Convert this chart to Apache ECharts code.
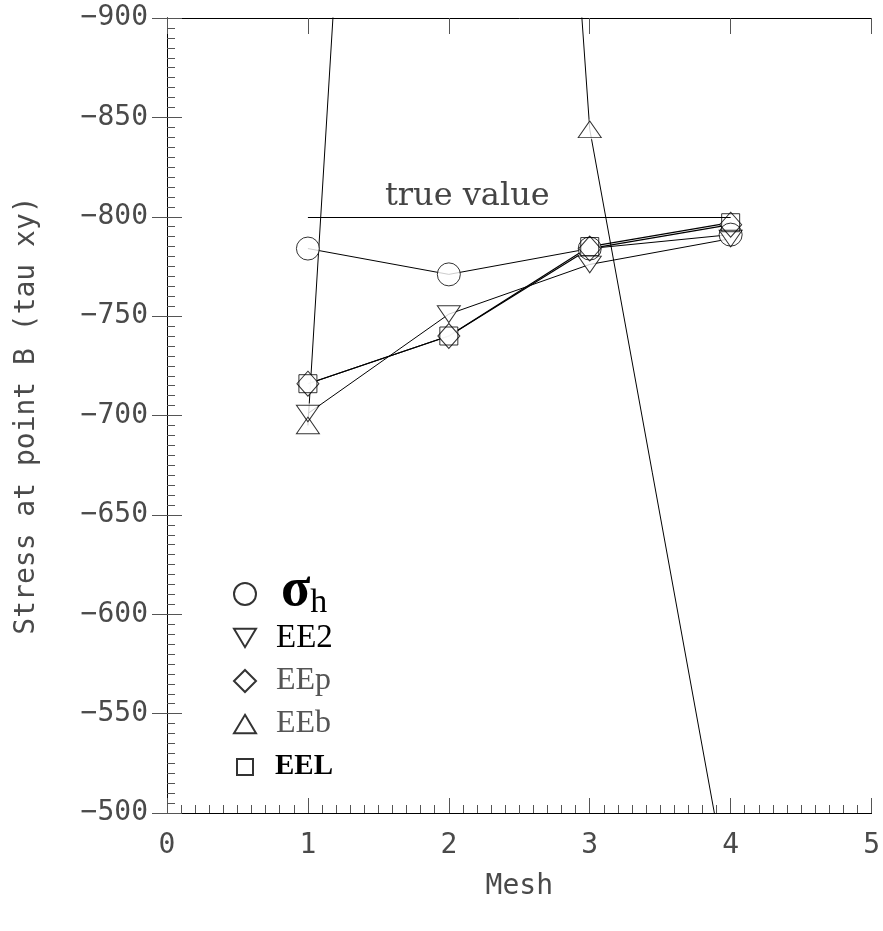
<!DOCTYPE html>
<html style="height: 100%">
<head>
    <meta charset="utf-8">
    <script src="https://cdn.jsdelivr.net/npm/echarts@6/dist/echarts.min.js"></script>
</head>
<body style="height: 100%; margin: 0; background: #fff">
    <div id="container" style="width: 883px; height: 931px"></div>
    <script type="text/javascript">
        // values
        var meshX = [1, 2, 3, 4];
        var sigmaH = [-784, -771, -784, -791];
        var ee2 = [-701, -751, -776, -789];
        var eep = [-716, -740, -784, -796];
        var eeb = [-695, -1850, -844, -455];
        var eel = [-716, -740, -785, -797];
        var trueValue = -800;
        var trueFrom = 1, trueTo = 4;

        var triDown = 'path://M0,0L24,0L12,20Z';
        var triUp = 'path://M12,0L24,20L0,20Z';
        var squareIcon = 'path://M0,0M22,22M3,3H19V19H3Z';

        var sets = [
            { name: 'σh', values: sigmaH, symbol: 'circle', size: 23, icon: 'circle', width: 1, text: '{s|σ}{h|h}' },
            { name: 'EE2', values: ee2, symbol: triDown, size: [23, 20], icon: triDown, width: 1, text: '{e2|EE2}' },
            { name: 'EEp', values: eep, symbol: 'diamond', size: [22, 25], icon: 'diamond', width: 1.2, text: '{ep|EEp}' },
            { name: 'EEb', values: eeb, symbol: triUp, size: [23, 20], icon: triUp, width: 1, text: '{eb|EEb}' },
            { name: 'EEL', values: eel, symbol: 'rect', size: 18, icon: squareIcon, width: 1.2, text: '{el|EEL}' }
        ];

        function pairs(vals) {
            return meshX.map(function (x, i) { return [x, vals[i]]; });
        }

        var mono = 'DejaVu Sans Mono';
        var labelGrey = '#4a4a4a';
        var series = [];
        // lines first
        sets.forEach(function (s, k) {
            var line = {
                name: s.name + ' line',
                type: 'line',
                data: pairs(s.values),
                symbol: 'none',
                lineStyle: { color: '#000', width: s.width },
                z: 2,
                silent: true
            };
            if (k === 0) {
                line.markLine = {
                    silent: true,
                    symbol: 'none',
                    lineStyle: { color: '#000', width: 1, type: 'solid' },
                    label: {
                        show: true,
                        position: 'insideStartTop',
                        distance: [77, 4],
                        formatter: 'true value',
                        fontFamily: 'DejaVu Serif',
                        fontSize: 32,
                        color: '#444'
                    },
                    data: [[{ coord: [trueFrom, trueValue] }, { coord: [trueTo, trueValue] }]]
                };
            }
            series.push(line);
        });
        // white fill under markers, so lines stop at the marker edge
        sets.forEach(function (s) {
            series.push({
                name: s.name + ' fill',
                type: 'scatter',
                data: pairs(s.values),
                symbol: s.symbol,
                symbolSize: s.size,
                itemStyle: { color: '#fff' },
                z: 3,
                silent: true
            });
        });
        // outlines on top
        sets.forEach(function (s) {
            series.push({
                name: s.name,
                type: 'scatter',
                data: pairs(s.values),
                symbol: s.symbol,
                symbolSize: s.size,
                symbolKeepAspect: true,
                itemStyle: { color: 'rgba(255,255,255,0)', borderColor: '#000', borderWidth: 1 },
                z: 4,
                silent: true
            });
        });

        var richText = {
            s: { fontFamily: 'Liberation Serif', fontWeight: 'bold', fontSize: 54, height: 34, lineHeight: 34, color: '#000', padding: [0, 0, 6, 20] },
            h: { fontFamily: 'Liberation Serif', fontSize: 34, height: 12, lineHeight: 34, color: '#000', padding: [18, 0, 0, 0] },
            e2: { fontFamily: 'Liberation Serif', fontSize: 33, height: 34, lineHeight: 34, color: '#000', padding: [0, 0, 0, 15] },
            ep: { fontFamily: 'Liberation Serif', fontSize: 32, height: 34, lineHeight: 34, color: '#555', padding: [0, 0, 0, 15] },
            eb: { fontFamily: 'Liberation Serif', fontSize: 32, height: 34, lineHeight: 34, color: '#555', padding: [0, 0, 0, 15] },
            el: { fontFamily: 'Liberation Serif', fontWeight: 'bold', fontSize: 29, height: 34, lineHeight: 34, color: '#000', padding: [0, 0, 0, 14] }
        };

        function legendText(name) {
            for (var i = 0; i < sets.length; i++) {
                if (sets[i].name === name) return sets[i].text;
            }
            return name;
        }

        function makeLegend(list, top) {
            return {
                orient: 'vertical',
                left: 228,
                top: top,
                itemWidth: 22,
                itemHeight: 22,
                itemGap: 9,
                selectedMode: false,
                symbolRotate: 0,
                data: list.map(function (s) { return { name: s.name, icon: s.icon }; }),
                formatter: legendText,
                textStyle: { rich: richText }
            };
        }

        var myChart = echarts.init(document.getElementById('container'));
        var option = {
            backgroundColor: '#fff',
            animation: false,
            grid: { left: 167, right: 8, top: 18, bottom: 118 },
            // the big sigma makes its row taller, so it gets its own legend box
            legend: [makeLegend(sets.slice(0, 1), 559), makeLegend(sets.slice(1), 616)],
            xAxis: [{
                type: 'value',
                min: 0, max: 5, interval: 1,
                position: 'bottom',
                name: 'Mesh',
                nameLocation: 'middle',
                nameGap: 60,
                nameTextStyle: { fontFamily: mono, fontSize: 28, color: labelGrey },
                axisLine: { lineStyle: { color: '#000', width: 1 } },
                axisTick: { inside: true, length: 15, lineStyle: { color: '#555' } },
                minorTick: { show: true, splitNumber: 10, length: 8, lineStyle: { color: '#555' } },
                splitLine: { show: false },
                axisLabel: { margin: 19, fontFamily: mono, fontSize: 28, color: labelGrey }
            }, {
                type: 'value',
                min: 0, max: 5, interval: 1,
                position: 'top',
                axisLine: { lineStyle: { color: '#000', width: 1 } },
                axisTick: { inside: true, length: 16, lineStyle: { color: '#555' } },
                splitLine: { show: false },
                axisLabel: { show: false }
            }],
            yAxis: [{
                type: 'value',
                inverse: true,
                min: -900, max: -500, interval: 50,
                position: 'left',
                name: 'Stress at point B (tau xy)',
                nameLocation: 'middle',
                nameRotate: 90,
                nameGap: 126,
                nameTextStyle: { fontFamily: mono, fontSize: 28, color: labelGrey },
                axisLine: { lineStyle: { color: '#000', width: 1 } },
                axisTick: { inside: true, length: 15, lineStyle: { color: '#555' } },
                minorTick: { show: true, splitNumber: 10, length: 8, lineStyle: { color: '#555' } },
                splitLine: { show: false },
                axisLabel: {
                    margin: 19, fontFamily: mono, fontSize: 28, color: labelGrey,
                    formatter: function (v) { return '\u2212' + Math.abs(v); }
                }
            }, {
                type: 'value',
                inverse: true,
                min: -900, max: -500, interval: 50,
                position: 'right',
                axisLine: { lineStyle: { color: '#000', width: 1 } },
                axisTick: { inside: true, length: 15, lineStyle: { color: '#555' } },
                splitLine: { show: false },
                axisLabel: { show: false }
            }],
            series: series
        };
        myChart.setOption(option);
    </script>
</body>
</html>
